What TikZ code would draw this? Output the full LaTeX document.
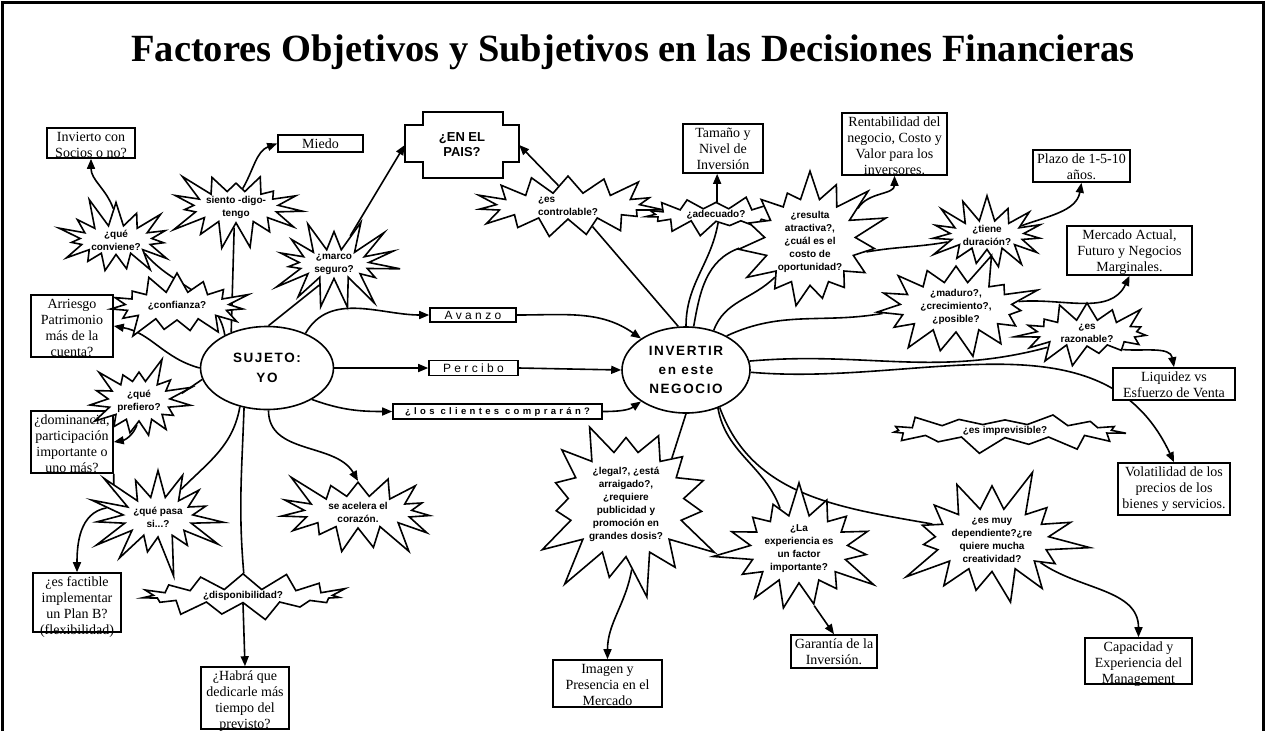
\documentclass[tikz,border=0pt]{standalone}
\usepackage{fontspec}
\setmainfont{Liberation Serif}
\setsansfont{Liberation Sans}
\newfontfamily\headsans[LetterSpace=12]{Liberation Sans}
\newfontfamily\widesans[LetterSpace=28]{Liberation Sans}
\newfontfamily\widebold[LetterSpace=35]{Liberation Sans}
\usetikzlibrary{arrows.meta,positioning,shapes.geometric,shapes.symbols,backgrounds}

% text of a fixed box, first line at the top, the rest may run out below
\newcommand{\boxtext}[3]{\parbox[c][#2][t]{#1}{\centering\rule{0pt}{13pt}#3\par}}
\newcommand{\infobox}[6]{
  \node[infobox] (#1) at (#2,#3) {\boxtext{#4pt}{#5pt}{#6}};
}
\newcommand{\explode}[9][]{
  \node[explosion,#1,random starburst=#2,starburst point height=#3pt,
        minimum width=#7pt,minimum height=#8pt] (#4) at (#5,#6) {#9};
}

\begin{document}
\begin{tikzpicture}[x=1pt,y=-1pt,
  wire/.style={line width=1.6pt},
  wirearrow/.style={wire,-{Triangle[length=10pt,width=8pt]}},
  infobox/.style={draw,line width=1.6pt,inner sep=0pt,fill=white,font=\fontsize{14}{16}\selectfont},
  explosion/.style={starburst,starburst points=15,draw,line width=1.6pt,fill=white,inner sep=0pt,
    align=center,font=\sffamily\bfseries\fontsize{10}{13}\selectfont},
  oval/.style={ellipse,draw,line width=1.6pt,fill=white,inner sep=0pt,align=center,
    font=\headsans\bfseries\fontsize{13.5}{20}\selectfont},
  tag/.style={draw,line width=1.6pt,inner sep=0pt,fill=white}]
  \useasboundingbox (0,0) rectangle (1266,731);
  \draw[line width=3pt] (2,731) -- (2,2) -- (1263,2) -- (1263,731);

  \node[font=\bfseries\fontsize{38.5}{40}\selectfont] (title) at (633,52)
    {Factores Objetivos y Subjetivos en las Decisiones Financieras};

  % centre nodes
  \node[oval,minimum width=133pt,minimum height=83pt] (yo) at (267,368) {SUJETO:\\YO};
  \node[oval,minimum width=128pt,minimum height=86pt,
        font=\headsans\bfseries\fontsize{13.5}{19}\selectfont] (inv) at (686,370)
    {INVERTIR\\en este\\NEGOCIO};

  \node[tag,minimum width=86pt,minimum height=14pt,font=\widesans\fontsize{12}{12}\selectfont]
    (av) at (473,315) {Avanzo};
  \node[tag,minimum width=89pt,minimum height=15pt,font=\widesans\fontsize{12}{12}\selectfont]
    (perc) at (473.5,368) {Percibo};
  \node[tag,minimum width=209pt,minimum height=15pt,font=\widebold\bfseries\fontsize{9.5}{10}\selectfont]
    (cli) at (497.5,411.5) {¿los clientes comprarán?};

  \node[minimum width=114pt,minimum height=66pt,inner sep=0pt,align=center,
        font=\sffamily\bfseries\fontsize{13}{15}\selectfont] (pais) at (462,145) {¿EN EL\\PAIS?};
  \draw[line width=1.6pt] ([xshift=18pt]pais.north west) -- ++(80,0) -- ++(0,13) -- ++(16,0)
    -- ++(0,37) -- ++(-16,0) -- ++(0,16) -- ++(-80,0) -- ++(0,-16) -- ++(-18,0)
    -- ++(0,-37) -- ++(18,0) -- cycle;

  % boxes
  \infobox{soc}{91}{143}{88}{30}{Invierto con\\Socios o no?}
  \infobox{miedo}{320.5}{143.5}{85}{17}{Miedo}
  \infobox{tam}{723}{148.5}{80}{49}{Tamaño y\\Nivel de\\Inversión}
  \infobox{rent}{894.5}{144}{105}{62}{Rentabilidad del\\negocio, Costo y\\Valor para los\\inversores.}
  \infobox{plazo}{1081.5}{166}{97}{32}{Plazo de 1-5-10\\años.}
  \infobox{merc}{1129.5}{250.5}{125}{49}{Mercado Actual,\\Futuro y Negocios\\Marginales.}
  \infobox{liq}{1174}{384}{122}{32}{Liquidez vs\\Esfuerzo de Venta}
  \infobox{vol}{1174}{489}{112}{52}{Volatilidad de los\\precios de los\\bienes y servicios.}
  \infobox{cap}{1138.5}{661}{107}{46}{Capacidad y\\Experiencia del\\Management}
  \infobox{gar}{834}{651.5}{86}{33}{Garantía de la\\Inversión.}
  \infobox{img}{607.5}{683.5}{109}{47}{Imagen y\\Presencia en el\\Mercado}
  \infobox{hab}{245}{698}{88}{62}{¿Habrá que\\dedicarle más\\tiempo del\\previsto?}
  \infobox{fact}{77}{602.5}{88}{59}{¿es factible\\implementar\\un Plan B?\\(flexibilidad)}
  \infobox{dom}{72}{442}{82}{62}{¿dominancia,\\participación\\importante o\\uno más?}
  \infobox{arriesgo}{72}{326}{82}{62}{Arriesgo\\Patrimonio\\más de la\\cuenta?}

  % bursts
  \explode{11}{31}{conv}{116}{240}{134}{64}{¿qué\\conviene?}
  \explode{23}{31}{sien}{236}{207}{144}{70}{siento -digo-\\tengo}
  \explode{35}{34}{marco}{334}{264}{138}{82}{¿marco\\seguro?}
  \explode{47}{24}{conf}{177}{306}{152}{76}{¿confianza?}
  \explode{59}{29}{pref}{139}{401}{120}{98}{¿qué\\prefiero?}
  \explode{61}{44}{pasa}{158}{517}{112}{128}{¿qué pasa\\si...?}
  \explode{73}{18}{disp}{243}{596}{216}{42}{¿disponibilidad?}
  \explode{85}{36}{acel}{358}{512}{180}{104}{se acelera el\\corazón.}
  \explode[align=left]{97}{26}{ctrl}{568}{206}{196}{64}{¿es\\controlable?}
  \explode{19}{15}{adec}{716}{215}{152}{34}{¿adecuado?}
  \explode{31}{40}{atrac}{810}{242}{142}{138}{¿resulta\\atractiva?,\\¿cuál es el\\costo de\\oportunidad?}
  \explode{43}{26}{dur}{987}{235}{126}{60}{¿tiene\\duración?}
  \explode{55}{34}{mad}{956}{307}{180}{90}{¿maduro?,\\¿crecimiento?,\\¿posible?}
  \explode{67}{23}{raz}{1087}{333}{146}{54}{¿es\\razonable?}
  \explode{79}{18}{impr}{1005}{431}{250}{42}{¿es imprevisible?}
  \explode{91}{44}{dep}{992}{540}{200}{142}{¿es muy\\dependiente?¿re\\quiere mucha\\creatividad?}
  \explode{13}{48}{legal}{626}{504}{212}{170}{¿legal?, ¿está\\arraigado?,\\¿requiere\\publicidad y\\promoción en\\grandes dosis?}
  \explode{27}{38}{exp}{799}{549}{168}{118}{¿La\\experiencia es\\un factor\\importante?}

  \begin{scope}[on background layer]
    % subject side
    \draw[wire] (yo.142) to[out=100,in=-50] (conv.-25);
    \draw[wirearrow] (conv.95) to[out=110,in=-90] (soc.south);
    \draw[wire] (yo.135) -- (sien.-95);
    \draw[wirearrow] (sien.70) to[out=60,in=200] (miedo.west);
    \draw[wire] (yo.88) -- (marco.235);
    \draw[wirearrow] (marco.60) -- (pais.west);
    \draw[wirearrow] (yo.180) to[out=165,in=-10] (arriesgo.east);
    \draw[wire] (yo.190) -- (pref.10);
    \draw[wirearrow] (pref.-95) to[out=-110,in=10] (dom.east);
    \draw[wire] (yo.235) to[out=-100,in=45] (pasa.50);
    \draw[wire] (dom.south east) -- (pasa.150);
    \draw[wirearrow] (pasa.170) to[out=190,in=90] (fact.north);
    \draw[wire] (yo.240) to[out=-92,in=95] (disp.88);
    \draw[wirearrow] (disp.-90) -- (hab.north);
    \draw[wirearrow] (yo.-88) to[out=-90,in=120] (acel.90);
    \draw[wirearrow] (yo.42) to[out=60,in=180] (av.west);
    \draw[wirearrow] (av.east) to[out=0,in=145] (inv.145);
    \draw[wirearrow] (yo.east) -- (perc.west);
    \draw[wirearrow] (perc.east) -- (inv.west);
    \draw[wirearrow] (yo.-35) to[out=-20,in=180] (cli.west);
    \draw[wirearrow] (cli.east) to[out=0,in=-145] (inv.-145);
    % business side
    \draw[wire] (inv.100) -- (ctrl.-40);
    \draw[wirearrow] (ctrl.115) -- (pais.east);
    \draw[wire] (inv.90) to[out=90,in=-100] (adec.-75);
    \draw[wirearrow] (adec.85) -- (adec.85 |- tam.south);
    \draw[wire] (inv.80) to[out=80,in=-160] (atrac.185);
    \draw[wire] (inv.55) to[out=70,in=-135] (atrac.-135);
    \draw[wirearrow] (atrac.35) to[out=60,in=-90] (rent.south);
    \draw[wire] (atrac.-10) to[out=10,in=190] (dur.190);
    \draw[wirearrow] (dur.15) to[out=20,in=-100] (plazo.south);
    \draw[wire] (inv.40) to[out=25,in=190] (mad.185);
    \draw[wirearrow] (mad.5) to[out=5,in=-115] (merc.south);
    \draw[wire] (inv.8) to[out=5,in=195] (raz.200);
    \draw[wirearrow] (raz.-25) to[out=-5,in=100] (liq.north);
    \draw[wirearrow] (inv.-2) to[out=-5,in=115] (vol.north);
    \draw[wire] (inv.-48) to[out=-70,in=170] (dep.165);
    \draw[wire] (inv.-50) to[out=-80,in=110] (exp.115);
    \draw[wirearrow] (exp.-75) -- (gar.north);
    \draw[wire] (inv.-90) -- (legal.45);
    \draw[wirearrow] (legal.-85) to[out=-100,in=90] (img.north);
    \draw[wirearrow] (dep.-25) to[out=-35,in=90] (cap.north);
  \end{scope}
\end{tikzpicture}
\end{document}
